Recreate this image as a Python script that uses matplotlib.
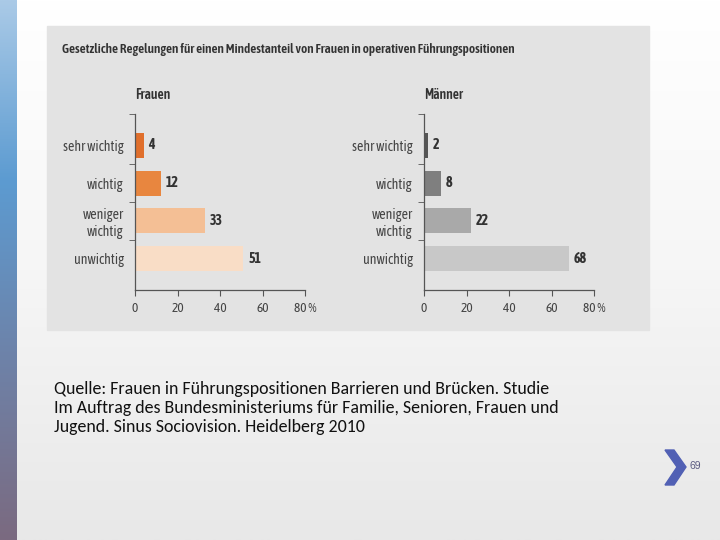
import numpy as np
import matplotlib
matplotlib.use('Agg')
import matplotlib.pyplot as plt
from matplotlib.colors import LinearSegmentedColormap
from matplotlib.patches import Rectangle, Polygon

# Daten
kategorien = ['sehr wichtig', 'wichtig', 'weniger\nwichtig', 'unwichtig']
frauen = [4, 12, 33, 51]
maenner = [2, 8, 22, 68]
xticks = [0, 20, 40, 60, 80]
xticklabels = ['0', '20', '40', '60', '80 %']
titel = 'Gesetzliche Regelungen für einen Mindestanteil von Frauen in operativen Führungspositionen'
quelle = ('Quelle: Frauen in Führungspositionen Barrieren und Brücken. Studie\n'
          'Im Auftrag des Bundesministeriums für Familie, Senioren, Frauen und\n'
          'Jugend. Sinus Sociovision. Heidelberg 2010')
seite = '69'

farben_frauen = ['#e06f2c', '#e8863f', '#f4bf95', '#f9ddc6']
farben_maenner = ['#555555', '#7f7f7f', '#a9a9a9', '#c8c8c8']

# schmale Schrift fuer die Grafik, Calibri-Ersatz fuer den Text
narrow = dict(family=['Asap Condensed', 'DejaVu Sans'], fontstretch='condensed')
calibri = dict(family=['Carlito', 'Liberation Sans', 'DejaVu Sans'], fontstyle='normal')

W, H = 720, 540
fig = plt.figure(figsize=(7.2, 5.4), dpi=100)

# Hintergrund der Folie (Verlauf weiss -> hellgrau)
bg = fig.add_axes([0, 0, 1, 1], zorder=-10)
bg.set_xlim(0, W)
bg.set_ylim(H, 0)
bg.axis('off')
grad = np.linspace(0, 1, 256).reshape(-1, 1)
cmap_bg = LinearSegmentedColormap.from_list('bg', ['#ffffff', '#f6f6f6', '#e8e8e8'])
bg.imshow(grad, cmap=cmap_bg, extent=[0, W, H, 0], aspect='auto')

# linker Balken
cmap_bar = LinearSegmentedColormap.from_list('bar', ['#aacae7', '#5c9bd1', '#6e82a8', '#7b6a80'])
bg.imshow(grad, cmap=cmap_bar, extent=[0, 17, H, 0], aspect='auto')

# graues Feld fuer die Grafik
bg.add_patch(Rectangle((47, 26), 602, 304, color='#e3e3e3', zorder=2))
bg.text(62, 49, titel, fontsize=9.5, fontweight='semibold', color='#333333',
        va='center', ha='left', zorder=3, **narrow)

# Quelle
bg.text(54, 408, quelle, fontsize=12.9, color='#111111',
        va='center', ha='left', linespacing=1.25, zorder=3, **calibri)

# Seitenzahl und Pfeil
bg.add_patch(Polygon([[665, 450], [674, 450], [686, 467], [674, 485], [665, 485], [677, 467]],
                     closed=True, color='#5160b4', zorder=3))
bg.text(690, 466, seite, fontsize=7.5, color='#5a5a80', va='center', ha='left', zorder=3,
        family=['Liberation Sans', 'DejaVu Sans'])

pos = np.arange(len(kategorien))
grenzen = [-0.82, 0.5, 1.5, 2.5]


def panel(left_px, werte, farben, kopf):
    ax = fig.add_axes([left_px / W, 1 - 290 / H, 170 / W, 176 / H], zorder=5)
    ax.patch.set_alpha(0)
    ax.barh(pos, werte, height=0.66, color=farben)
    ax.set_xlim(0, 80)
    ax.set_ylim(3.82, -0.82)
    for s in ['top', 'right']:
        ax.spines[s].set_visible(False)
    for s in ['left', 'bottom']:
        ax.spines[s].set_color('#555555')
        ax.spines[s].set_linewidth(0.9)
    ax.set_xticks(xticks)
    ax.set_xticklabels(xticklabels, fontsize=9.6, color='#444444', **narrow)
    ax.tick_params(axis='x', length=4, color='#555555', pad=5)
    ax.set_yticks(pos)
    ax.set_yticklabels(kategorien, fontsize=10, color='#444444', **narrow)
    ax.tick_params(axis='y', which='major', length=0, pad=8)
    ax.set_yticks(grenzen, minor=True)
    ax.tick_params(axis='y', which='minor', length=4, color='#555555')
    for i, v in enumerate(werte):
        ax.text(v + 2.3, i, str(v), va='center', ha='left', fontsize=10,
                fontweight='bold', color='#333333', **narrow)
    ax.text(0, 1 + 19 / 176, kopf, transform=ax.transAxes, va='center', ha='left',
            fontsize=9.8, fontweight='semibold', color='#333333', **narrow)
    return ax


panel(135, frauen, farben_frauen, 'Frauen')
panel(424, maenner, farben_maenner, 'Männer')

plt.savefig('out.png', dpi=100)
plt.close()
